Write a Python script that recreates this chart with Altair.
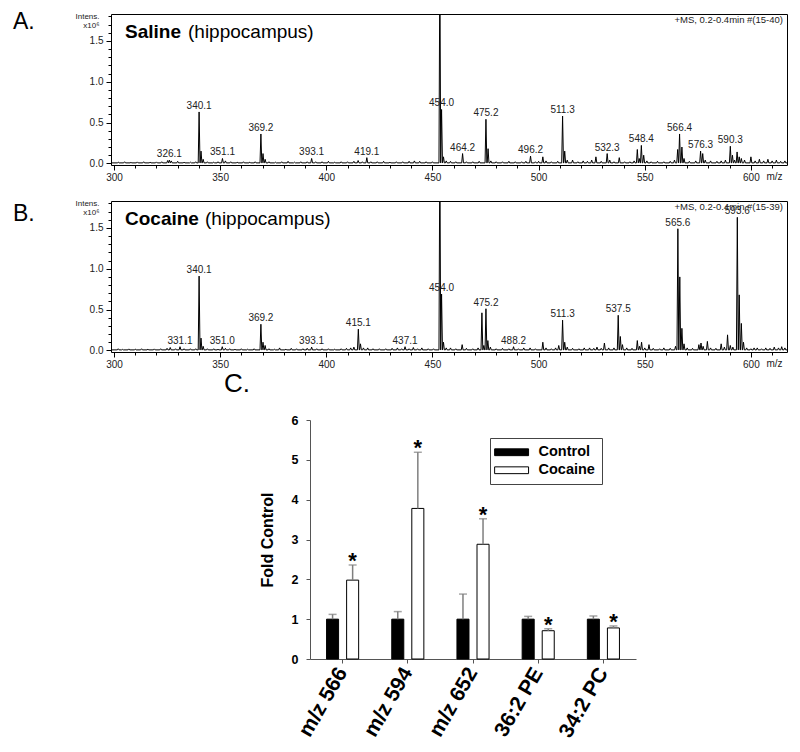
import altair as alt
import pandas as pd

FONT = "Liberation Sans"

# ---------------- Panels A / B : mass spectra (intensity x10^6 vs m/z) ----------------
saline_peaks = [
    (302, 0.015), (305, 0.02), (308, 0.012), (311, 0.018), (314, 0.02), (317, 0.015),
    (320, 0.018), (322.5, 0.02), (325.3, 0.035), (326.1, 0.04), (327, 0.03), (330, 0.025),
    (333, 0.015), (336, 0.015), (338.5, 0.02), (340.1, 0.63), (341.0, 0.15), (342.0, 0.05),
    (344, 0.02), (347, 0.015), (349, 0.02), (351.1, 0.06), (352.5, 0.03), (355, 0.02),
    (358, 0.015), (361, 0.02), (364, 0.015), (366.5, 0.02), (369.2, 0.36), (370.2, 0.12),
    (371.2, 0.05), (373, 0.02), (376, 0.015), (379, 0.02), (382, 0.025), (385, 0.015),
    (388, 0.02), (391, 0.02), (393.1, 0.06), (395, 0.02), (398, 0.02), (401, 0.025),
    (404, 0.015), (407, 0.02), (410, 0.02), (413, 0.025), (415, 0.035), (417, 0.02),
    (419.1, 0.07), (421, 0.02), (424, 0.02), (427, 0.025), (430, 0.015), (433, 0.02),
    (436, 0.02), (439, 0.025), (441.5, 0.03), (444, 0.025), (447, 0.02), (450, 0.02),
    (453.5, 2.6), (454.3, 0.66), (455.2, 0.08), (456.5, 0.03), (458.5, 0.025), (461, 0.02),
    (464.2, 0.12), (466, 0.02), (469, 0.02), (472, 0.025), (475.2, 0.54), (476.2, 0.18),
    (477.5, 0.03), (480, 0.02), (483, 0.02), (486, 0.025), (489, 0.02), (492, 0.02),
    (494, 0.025), (496.2, 0.09), (498.5, 0.02), (500, 0.025), (502, 0.08), (503.5, 0.03),
    (506, 0.02), (509, 0.025), (511.3, 0.58), (512.3, 0.15), (513.5, 0.04), (516, 0.04),
    (518.5, 0.02), (521, 0.03), (523, 0.025), (525, 0.04), (527, 0.08), (529.5, 0.025),
    (532.3, 0.12), (533.5, 0.04), (535.5, 0.02), (538, 0.07), (540.5, 0.02), (543, 0.02),
    (545, 0.03), (546.5, 0.17), (547.4, 0.06), (548.4, 0.22), (549.5, 0.1), (551, 0.03),
    (553, 0.02), (556, 0.025), (559, 0.02), (562, 0.025), (564, 0.04), (565.5, 0.17),
    (566.4, 0.36), (567.5, 0.2), (568.5, 0.06), (571, 0.025), (574, 0.03), (576.3, 0.15),
    (577.3, 0.12), (578.5, 0.04), (581, 0.03), (584, 0.025), (586, 0.03), (588, 0.04),
    (590.3, 0.21), (591.3, 0.1), (592.3, 0.04), (593.5, 0.14), (594.5, 0.08), (595.5, 0.06),
    (597, 0.04), (600, 0.08), (602, 0.03), (604, 0.05), (606, 0.03), (608, 0.05),
    (610, 0.03), (612, 0.04), (614, 0.025), (616, 0.03),
]
saline_labels = [
    (326.1, "326.1"), (340.1, "340.1"), (351.1, "351.1"), (369.2, "369.2"), (393.1, "393.1"),
    (419.1, "419.1"), (454.3, "454.0"), (464.2, "464.2"), (475.2, "475.2"), (496.2, "496.2"),
    (511.3, "511.3"), (532.3, "532.3"), (548.4, "548.4"), (566.4, "566.4"), (576.3, "576.3"),
    (590.3, "590.3"),
]

cocaine_peaks = [
    (302, 0.02), (304, 0.012), (307, 0.018), (310, 0.015), (313, 0.02), (316, 0.015),
    (319, 0.018), (322, 0.02), (325, 0.025), (326.5, 0.035), (329, 0.02), (331.1, 0.045),
    (333, 0.02), (336, 0.02), (338.5, 0.02), (340.1, 0.91), (341.0, 0.15), (342.0, 0.05),
    (344, 0.02), (347, 0.02), (349, 0.015), (351.0, 0.045), (352.5, 0.025), (354.5, 0.02),
    (357, 0.015), (360, 0.02), (363, 0.015), (366, 0.02), (369.2, 0.32), (370.2, 0.1),
    (371.2, 0.06), (373, 0.02), (375.5, 0.015), (378, 0.03), (381, 0.015), (383.5, 0.025),
    (386, 0.02), (389, 0.02), (391, 0.025), (393.1, 0.04), (395.5, 0.02), (398, 0.02),
    (401, 0.02), (404, 0.015), (407, 0.02), (409.5, 0.025), (411.5, 0.03), (413, 0.04),
    (415.1, 0.26), (416.1, 0.08), (417.5, 0.03), (419.5, 0.03), (422, 0.02), (425, 0.02),
    (428, 0.02), (431, 0.025), (433.5, 0.03), (435.5, 0.02), (437.1, 0.045), (439, 0.02),
    (441, 0.035), (443, 0.02), (445, 0.03), (448, 0.02), (450.5, 0.02), (453.5, 2.6),
    (454.3, 0.69), (455.2, 0.1), (456.5, 0.03), (458.5, 0.03), (461, 0.02), (464, 0.07),
    (466, 0.025), (469, 0.02), (471.5, 0.03), (473.3, 0.46), (474.2, 0.06), (475.2, 0.51),
    (476.1, 0.12), (477.3, 0.04), (480, 0.02), (483, 0.025), (486, 0.02), (488.2, 0.045),
    (490.5, 0.02), (493, 0.03), (496, 0.03), (498.5, 0.02), (502, 0.1), (503.5, 0.03),
    (506, 0.02), (508, 0.03), (509.5, 0.06), (511.3, 0.37), (512.3, 0.1), (513.5, 0.04),
    (516, 0.025), (519, 0.02), (521.5, 0.03), (524, 0.03), (526, 0.025), (527.5, 0.04),
    (529.5, 0.025), (531, 0.09), (533, 0.03), (535.5, 0.03), (537.5, 0.43), (538.5, 0.17),
    (539.5, 0.07), (541.5, 0.03), (544, 0.025), (546.5, 0.12), (547.5, 0.05), (548.5, 0.1),
    (550, 0.03), (552, 0.07), (554, 0.025), (557, 0.02), (559, 0.03), (562, 0.025),
    (564.5, 0.05), (565.6, 1.49), (566.5, 0.9), (567.5, 0.27), (568.5, 0.08), (570, 0.03),
    (572.5, 0.025), (575.5, 0.07), (576.5, 0.09), (577.5, 0.05), (579.5, 0.11), (581, 0.03),
    (583.5, 0.025), (586, 0.08), (587.5, 0.04), (589, 0.19), (590.3, 0.06), (591.5, 0.04),
    (593.6, 1.63), (594.5, 0.68), (595.5, 0.33), (596.5, 0.1), (598, 0.03), (600, 0.02),
    (601.5, 0.03), (603, 0.03), (605, 0.02), (607, 0.03), (609, 0.025), (611, 0.04),
    (613, 0.03), (614.5, 0.045), (616, 0.03),
]
cocaine_labels = [
    (331.1, "331.1"), (340.1, "340.1"), (351.0, "351.0"), (369.2, "369.2"), (393.1, "393.1"),
    (415.1, "415.1"), (437.1, "437.1"), (454.3, "454.0"), (475.2, "475.2"), (488.2, "488.2"),
    (511.3, "511.3"), (537.5, "537.5"), (565.6, "565.6"), (593.6, "593.6"),
]

spectrum_names = ["Saline", "Cocaine"]
spectrum_region = "(hippocampus)"
spectrum_scans = ["+MS, 0.2-0.4min #(15-40)", "+MS, 0.2-0.4min #(15-39)"]
panel_letters = ["A.", "B.", "C."]

X_DOMAIN = [298.6, 617.0]
Y_DOMAIN = [-0.02, 1.83]
X_MAJOR = [300, 350, 400, 450, 500, 550, 600]
X_MINOR = list(range(300, 611, 10))
Y_MAJOR = [0.0, 0.5, 1.0, 1.5]
Y_MINOR = [i / 10 for i in range(0, 19)]
BASE = 0.006
HALF_WIDTH = 0.42


def profile(peaks):
    pts = [(X_DOMAIN[0], BASE)]
    for m, h in sorted(peaks):
        pts += [(m - HALF_WIDTH, BASE), (m, h), (m + HALF_WIDTH, BASE)]
    pts.append((X_DOMAIN[1], BASE))
    return pd.DataFrame(pts, columns=["mz", "intensity"])


def one_text(txt):
    return pd.DataFrame({"t": [txt]})


XS = alt.Scale(domain=X_DOMAIN, nice=False, zero=False)
YS = alt.Scale(domain=Y_DOMAIN, nice=False, zero=False)


def spectrum(peaks, labels, name, scan, letter, name_w, letter_y):
    h = dict(peaks)
    lab_df = pd.DataFrame({
        "mz": [m for m, _ in labels],
        "intensity": [h[m] for m, _ in labels],
        "label": [t for _, t in labels],
    })
    prof = profile(peaks)
    x_major = alt.X("mz:Q", scale=XS, axis=alt.Axis(
        orient="bottom", values=X_MAJOR, format="d", tickSize=5, labelFlush=False,
        labelOverlap=False, labelFontSize=10, labelPadding=2, labelColor="#222",
        tickColor="black", domain=False, grid=False,
        title="m/z", titleAngle=0, titleX=663, titleY=11, titleAlign="center",
        titleBaseline="middle", titleFontSize=10, titleFontWeight="normal", titleColor="#222"))
    y_major = alt.Y("intensity:Q", scale=YS, axis=alt.Axis(
        orient="left", values=Y_MAJOR, format=".1f", tickSize=5, labelOverlap=False,
        labelFontSize=10, labelPadding=3, labelColor="#222", tickColor="black",
        domain=False, grid=False,
        title=["Intens.", "x10⁶"], titleAngle=0, titleAlign="right", titleBaseline="top",
        titleX=-12, titleY=-2, titleFontSize=8, titleFontWeight="normal", titleColor="#222",
        titleLineHeight=9))
    x_minor = alt.X("mz:Q", scale=XS, axis=alt.Axis(
        orient="bottom", values=X_MINOR, labels=False, tickSize=3, tickColor="black",
        domain=False, grid=False, title=None))
    y_minor = alt.Y("intensity:Q", scale=YS, axis=alt.Axis(
        orient="left", values=Y_MINOR, labels=False, tickSize=3, tickColor="black",
        domain=False, grid=False, title=None))

    line = alt.Chart(prof).mark_line(color="black", strokeWidth=1, clip=True).encode(
        x=x_major, y=y_major)
    minor = alt.Chart(prof).mark_line(opacity=0, clip=True).encode(x=x_minor, y=y_minor)
    text = alt.Chart(lab_df).mark_text(fontSize=10, baseline="bottom", dy=-1, color="#222").encode(
        x=alt.X("mz:Q", scale=XS, axis=None), y=alt.Y("intensity:Q", scale=YS, axis=None),
        text="label:N")
    head1 = alt.Chart(one_text(name)).mark_text(
        align="left", baseline="middle", fontSize=19, fontWeight="bold").encode(
        x=alt.value(14), y=alt.value(18), text="t:N")
    head2 = alt.Chart(one_text(spectrum_region)).mark_text(
        align="left", baseline="middle", fontSize=19).encode(
        x=alt.value(14 + name_w), y=alt.value(18), text="t:N")
    ms = alt.Chart(one_text(scan)).mark_text(
        align="right", baseline="middle", fontSize=9.5, color="#222").encode(
        x=alt.value(672), y=alt.value(6), text="t:N")
    let = alt.Chart(one_text(letter)).mark_text(
        align="left", baseline="middle", fontSize=23).encode(
        x=alt.value(-98), y=alt.value(letter_y), text="t:N")
    return alt.layer(line, minor, text, head1, head2, ms, let).resolve_axis(
        x="independent", y="independent").properties(
        width=676, height=151, view=alt.ViewBackground(stroke="black", strokeWidth=1))


spec_a = spectrum(saline_peaks, saline_labels, spectrum_names[0], spectrum_scans[0],
                  panel_letters[0], 63, 8)
spec_b = spectrum(cocaine_peaks, cocaine_labels, spectrum_names[1], spectrum_scans[1],
                  panel_letters[1], 80, 13)

# ---------------- Panel C : fold control bar chart ----------------
categories = ["m/z 566", "m/z 594", "m/z 652", "36:2 PE", "34:2 PC"]
groups = ["Control", "Cocaine"]
control_mean = [1.0, 1.0, 1.0, 1.0, 1.0]
control_err = [0.12, 0.19, 0.63, 0.07, 0.08]
cocaine_mean = [1.98, 3.78, 2.88, 0.71, 0.78]
cocaine_err = [0.38, 1.41, 0.64, 0.05, 0.05]
cocaine_sig = ["*", "*", "*", "*", "*"]

rows = []
for i, c in enumerate(categories):
    rows.append({"cat": c, "group": groups[0], "mean": control_mean[i],
                 "top": control_mean[i] + control_err[i]})
    rows.append({"cat": c, "group": groups[1], "mean": cocaine_mean[i],
                 "top": cocaine_mean[i] + cocaine_err[i]})
bar_df = pd.DataFrame(rows)
sig_df = pd.DataFrame({"cat": categories, "group": groups[1],
                       "top": [m + e for m, e in zip(cocaine_mean, cocaine_err)],
                       "sig": cocaine_sig})

YB = alt.Scale(domain=[0, 6], nice=False)
YB_AXIS = alt.Axis(values=[0, 1, 2, 3, 4, 5, 6], grid=False, tickSize=4, labelOverlap=False,
                   labelFontSize=12.5, labelFontWeight="bold", labelColor="black",
                   labelPadding=8, domainColor="#555", tickColor="#555",
                   title="Fold Control", titleFontSize=16, titleFontWeight="bold",
                   titleColor="black", titlePadding=16)
xb = alt.X("cat:N", sort=categories, scale=alt.Scale(paddingInner=0, paddingOuter=0),
           axis=alt.Axis(labelAngle=-60, labelFontSize=21, labelFontWeight="bold",
                         labelColor="black", title=None, tickSize=4, labelPadding=6,
                         domainColor="#555", tickColor="#555"))
xo = alt.XOffset("group:N", sort=groups,
                 scale=alt.Scale(paddingInner=0.4, paddingOuter=0.825))

bars = alt.Chart(bar_df).mark_bar(stroke="black", strokeWidth=1).encode(
    x=xb, xOffset=xo, y=alt.Y("mean:Q", scale=YB, axis=YB_AXIS),
    fill=alt.Fill("group:N", sort=groups,
                  scale=alt.Scale(domain=groups, range=["black", "white"]),
                  legend=alt.Legend(
                      title=None, orient="none", legendX=180, legendY=18, direction="vertical",
                      symbolType="M-1.7,-0.6H4.3V0.6H-1.7Z", symbolSize=128,
                      symbolStrokeColor="black", symbolStrokeWidth=1,
                      labelFontSize=14.5, labelFontWeight="bold", labelOffset=27,
                      strokeColor="#444", fillColor="white", padding=7, rowPadding=3)),
)
err = alt.Chart(bar_df).mark_rule(color="#7f7f7f", strokeWidth=1.5).encode(
    x=xb, xOffset=xo, y=alt.Y("mean:Q", scale=YB, axis=YB_AXIS), y2="top:Q")
cap = alt.Chart(bar_df).mark_tick(color="#7f7f7f", thickness=1.5, size=8).encode(
    x=xb, xOffset=xo, y=alt.Y("top:Q", scale=YB, axis=YB_AXIS))
stars = alt.Chart(sig_df).mark_text(fontSize=22, fontWeight="bold", baseline="alphabetic",
                                    dy=3).encode(
    x=xb, xOffset=xo, y=alt.Y("top:Q", scale=YB, axis=YB_AXIS), text="sig:N")
letter_c = alt.Chart(one_text(panel_letters[2])).mark_text(
    align="left", baseline="middle", fontSize=26).encode(
    x=alt.value(-86), y=alt.value(-36), text="t:N")

bar_chart = alt.layer(bars, err, cap, stars, letter_c).properties(width=326, height=239)

spacer = alt.Chart(one_text("")).mark_point(opacity=0).encode(
    x=alt.value(0), y=alt.value(0)).properties(width=113, height=10)

chart = alt.vconcat(
    alt.vconcat(spec_a, spec_b, spacing=15),
    alt.hconcat(spacer, bar_chart, spacing=0).resolve_scale(fill="independent"),
    spacing=1,
).resolve_scale(fill="independent").properties(
    padding={"left": 4, "top": 2, "right": 0, "bottom": 0}
).configure_view(strokeWidth=0).configure_axis(
    labelFont=FONT, titleFont=FONT
).configure_text(font=FONT).configure_legend(labelFont=FONT)

chart.save("out.html", embed_options={"renderer": "svg", "actions": False})
